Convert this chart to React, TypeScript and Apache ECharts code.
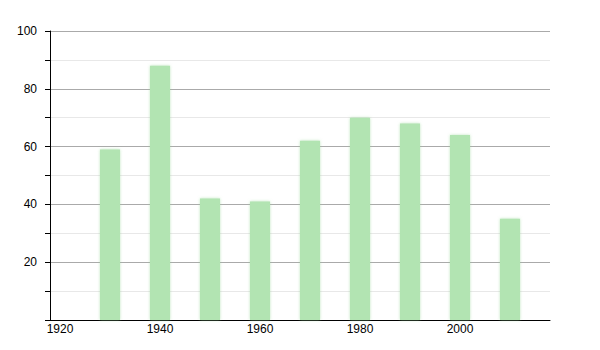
import React, { useEffect, useRef } from "react";
import * as echarts from "echarts";

const years = [1930, 1940, 1950, 1960, 1970, 1980, 1990, 2000, 2010];
const values = [59, 88, 42, 41, 62, 70, 68, 64, 35];
const xTickLabels = [1920, 1940, 1960, 1980, 2000];

export default function App() {
  const ref = useRef<HTMLDivElement>(null);
  useEffect(() => {
    if (!ref.current) return;
    const chart = echarts.init(ref.current, null, { renderer: "svg" });
    chart.setOption({
      animation: false,
      backgroundColor: "#ffffff",
      grid: { left: 42, right: 58, top: 23, bottom: 38, containLabel: false },
      xAxis: {
        type: "value",
        min: 1918,
        max: 2018,
        axisLine: { show: true, lineStyle: { color: "#000", width: 1 } },
        axisTick: { show: false },
        splitLine: { show: false },
        axisLabel: {
          customValues: xTickLabels,
          color: "#000",
          fontFamily: "Liberation Sans, Arial, sans-serif",
          fontSize: 12,
          margin: 3,
          formatter: (v: number) => String(v),
        },
      },
      yAxis: {
        type: "value",
        min: 0,
        max: 100,
        interval: 10,
        axisLine: { show: true, lineStyle: { color: "#000", width: 1 } },
        axisTick: { show: true, length: 5, lineStyle: { color: "#000" } },
        splitLine: { show: true, lineStyle: { color: ["#aaaaaa", "#e8e8e8"], width: 1 } },
        axisLabel: {
          color: "#000",
          fontFamily: "Liberation Sans, Arial, sans-serif",
          fontSize: 12,
          margin: 13,
          formatter: (v: number) => (v !== 0 && v % 20 === 0 ? String(v) : ""),
        },
      },
      series: [
        {
          type: "bar",
          barWidth: 20,
          data: years.map((y, i) => [y, values[i]]),
          itemStyle: {
            color: "#b2e4b2",
            shadowColor: "rgba(150,215,150,0.6)",
            shadowBlur: 3,
          },
        },
      ],
    });
    return () => chart.dispose();
  }, []);
  return <div ref={ref} style={{ width: 600, height: 350 }} />;
}
